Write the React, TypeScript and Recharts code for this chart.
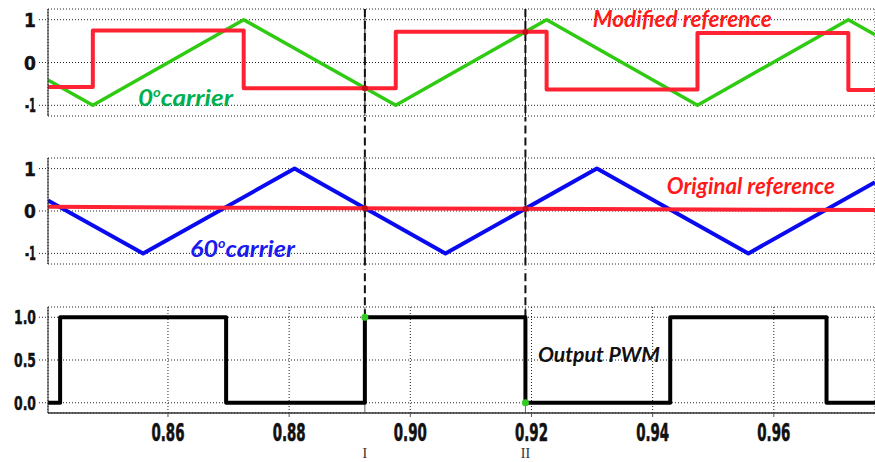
import React from "react";
import {
  LineChart,
  Line,
  XAxis,
  YAxis,
  CartesianGrid,
  ReferenceLine,
  ReferenceDot,
} from "recharts";

// ---------- data ----------
const xDomain: [number, number] = [0.8402, 0.9767];
const xTicks = [0.86, 0.88, 0.9, 0.92, 0.94, 0.96];
const xTickLabels = ["0.86", "0.88", "0.90", "0.92", "0.94", "0.96"];
const carrierYTicks = [-1, 0, 1];
const carrierYTickLabels = ["-1", "0", "1"];
const pwmYTicks = [0, 0.5, 1];
const pwmYTickLabels = ["0.0", "0.5", "1.0"];

const carrier0Times = [0.8402, 0.8476, 0.8725, 0.8976, 0.9225, 0.9474, 0.9723, 0.9767];
const carrier0Values = [-0.41, -1, 1, -1, 1, -1, 1, 0.65];

const modifiedTimes = [
  0.8402, 0.8476, 0.8476, 0.8725, 0.8725, 0.8976, 0.8976, 0.9225, 0.9225, 0.9474, 0.9474,
  0.9723, 0.9723, 0.9767,
];
const modifiedValues = [
  -0.57, -0.57, 0.75, 0.75, -0.6, -0.6, 0.72, 0.72, -0.63, -0.63, 0.69, 0.69, -0.64, -0.64,
];

const carrier60Times = [0.8402, 0.8559, 0.8809, 0.9058, 0.9308, 0.9558, 0.9767];
const carrier60Values = [0.25, -1, 1, -1, 1, -1, 0.68];

const originalTimes = [0.8402, 0.87, 0.9, 0.93, 0.96, 0.9767];
const originalValues = [0.1, 0.077, 0.06, 0.045, 0.03, 0.022];

const pwmTimes = [
  0.8402, 0.8422, 0.8422, 0.8696, 0.8696, 0.8925, 0.8925, 0.919, 0.919, 0.9429, 0.9429,
  0.9687, 0.9687, 0.9767,
];
const pwmValues = [0, 0, 1, 1, 0, 0, 1, 1, 0, 0, 1, 1, 0, 0];

const markerTimes = [0.8925, 0.919];
const markerLabels = ["I", "II"];
const modifiedAtMarkers = [-0.6, 0.712];
const originalAtMarkers = [0.066, 0.05];
const pwmAtMarkers = [1, 0];

// ---------- helpers ----------
const zip = (ts: number[], vs: number[]) => ts.map((t, i) => ({ t, v: vs[i] }));

const carrier0Data = zip(carrier0Times, carrier0Values);
const modifiedData = zip(modifiedTimes, modifiedValues);
const carrier60Data = zip(carrier60Times, carrier60Values);
const originalData = zip(originalTimes, originalValues);
const pwmData = zip(pwmTimes, pwmValues);

const NARROW = "'Liberation Sans Narrow', 'DejaVu Sans Condensed', 'Roboto', sans-serif";
const ANNOT = "Lato, 'Open Sans', 'Noto Sans', sans-serif";

const XTick = (props: any) => {
  const { x, y, payload } = props;
  const i = xTicks.findIndex((t) => Math.abs(t - payload.value) < 1e-9);
  const label = i >= 0 ? xTickLabels[i] : String(payload.value);
  return (
    <text
      x={x}
      y={y + 22}
      textAnchor="middle"
      fontFamily={NARROW}
      fontWeight={700}
      fontSize={25}
      fill="#111"
      stroke="#111"
      strokeWidth={0.6}
      textLength={33}
      lengthAdjust="spacingAndGlyphs"
    >
      {label}
    </text>
  );
};

const makeYTick = (ticks: number[], labels: string[]) => (props: any) => {
  const { x, y, payload } = props;
  const i = ticks.findIndex((t) => Math.abs(t - payload.value) < 1e-9);
  const label = i >= 0 ? labels[i] : String(payload.value);
  const len = label.length === 3 ? 22 : label.length === 2 ? 11 : undefined;
  return (
    <text
      x={x}
      y={y}
      dy={7}
      textAnchor="end"
      fontFamily={NARROW}
      fontWeight={700}
      fontSize={19}
      fill="#111"
      stroke="#111"
      strokeWidth={0.4}
      textLength={len}
      lengthAdjust={len ? "spacingAndGlyphs" : undefined}
    >
      {label}
    </text>
  );
};

const markLabel = (text: string) => (props: any) => {
  const vb = props.viewBox || {};
  const x = (vb.x || 0) + (vb.width || 0) / 2;
  const y = (vb.y || 0) + (vb.height || 0) + 45;
  return (
    <text
      x={x}
      y={y}
      textAnchor="middle"
      fontFamily="'Liberation Serif', 'DejaVu Serif', serif"
      fontSize={14}
      fill="#333"
    >
      {text}
    </text>
  );
};

const annot =
  (text: string, color: string, width: number, size = 22, sup?: string, rest?: string) =>
  (props: any) => {
    const vb = props.viewBox || {};
    return (
      <text
        x={vb.x}
        y={vb.y}
        fontFamily={ANNOT}
        fontWeight={700}
        fontStyle="italic"
        fontSize={size}
        fill={color}
        textLength={width}
        lengthAdjust="spacingAndGlyphs"
      >
        {text}
        {sup ? (
          <tspan fontSize={13} dy={-9}>
            {sup}
          </tspan>
        ) : null}
        {rest ? <tspan dy={9}>{rest}</tspan> : null}
      </text>
    );
  };

const gridProps = {
  stroke: "#222",
  strokeDasharray: "1 2",
  strokeWidth: 1,
};

const dashStyle = { stroke: "#111", strokeWidth: 2, strokeDasharray: "8 4" };

const commonX = (
  <XAxis
    dataKey="t"
    type="number"
    domain={xDomain}
    allowDataOverflow
    ticks={xTicks}
    height={0}
    tick={false}
    tickLine={false}
    axisLine={{ stroke: "#444", strokeWidth: 1.5 }}
  />
);

const topBorder = (
  <XAxis
    xAxisId="top"
    orientation="top"
    type="number"
    domain={xDomain}
    allowDataOverflow
    height={0}
    tick={false}
    tickLine={false}
    axisLine={{ stroke: "#8a8a8a", strokeWidth: 2 }}
  />
);

const carrierY = (
  <YAxis
    type="number"
    domain={[-1.25, 1.25]}
    allowDataOverflow
    ticks={carrierYTicks}
    width={48}
    tickSize={9}
    tickMargin={3}
    tickLine={{ stroke: "#222", strokeDasharray: "1 2" }}
    axisLine={{ stroke: "#222" }}
    tick={makeYTick(carrierYTicks, carrierYTickLabels)}
    interval={0}
  />
);

export default function App() {
  return (
    <div
      style={{
        position: "absolute",
        left: 0,
        top: 0,
        width: 875,
        height: 462,
        background: "#fff",
        overflow: "hidden",
      }}
    >
      {/* Top panel */}
      <div style={{ position: "absolute", left: 0, top: 0 }}>
        <LineChart width={875} height={120} margin={{ top: 9, right: 0, bottom: 4, left: 0 }}>
          <CartesianGrid {...gridProps} />
          {commonX}
          {topBorder}
          {carrierY}
          <Line
            data={carrier0Data}
            dataKey="v"
            stroke="#2fcb12"
            strokeWidth={3.5}
            dot={false}
            isAnimationActive={false}
            strokeLinejoin="round"
          />
          <Line
            data={modifiedData}
            dataKey="v"
            stroke="#fe2233"
            strokeWidth={4}
            dot={false}
            isAnimationActive={false}
            strokeLinejoin="round"
          />
          {markerTimes.map((t, i) => (
            <ReferenceLine key={"s" + i} x={t} stroke="#111" strokeWidth={1} />
          ))}
          {markerTimes.map((t, i) => (
            <ReferenceLine
              key={"d" + i}
              segment={[
                { x: t, y: 1.25 },
                { x: t, y: -2.5 },
              ]}
              ifOverflow="visible"
              {...dashStyle}
            />
          ))}
          {markerTimes.map((t, i) => (
            <ReferenceDot
              key={"p" + i}
              x={t}
              y={modifiedAtMarkers[i]}
              r={3}
              fill="#c0101a"
              stroke="none"
            />
          ))}
          <ReferenceDot
            x={0.9301}
            y={0.83}
            r={0}
            stroke="none"
            label={annot("Modified reference", "#ff1a1a", 179)}
          />
          <ReferenceDot
            x={0.85505}
            y={-1.016}
            r={0}
            stroke="none"
            label={annot("0", "#00b050", 95, 23, "o", "carrier")}
          />
        </LineChart>
      </div>

      {/* Middle panel */}
      <div style={{ position: "absolute", left: 0, top: 120 }}>
        <LineChart width={875} height={150} margin={{ top: 38, right: 0, bottom: 6, left: 0 }}>
          <CartesianGrid {...gridProps} />
          {commonX}
          {topBorder}
          {carrierY}
          <Line
            data={carrier60Data}
            dataKey="v"
            stroke="#0a0af0"
            strokeWidth={4}
            dot={false}
            isAnimationActive={false}
            strokeLinejoin="round"
          />
          <Line
            data={originalData}
            dataKey="v"
            stroke="#fe2233"
            strokeWidth={4}
            dot={false}
            isAnimationActive={false}
            strokeLinejoin="round"
          />
          {markerTimes.map((t, i) => (
            <ReferenceLine key={"s" + i} x={t} stroke="#111" strokeWidth={1} />
          ))}
          {markerTimes.map((t, i) => (
            <ReferenceLine
              key={"d" + i}
              segment={[
                { x: t, y: 4 },
                { x: t, y: -4 },
              ]}
              ifOverflow="visible"
              {...dashStyle}
            />
          ))}
          {markerTimes.map((t, i) => (
            <ReferenceDot
              key={"p" + i}
              x={t}
              y={originalAtMarkers[i]}
              r={3}
              fill="#c0101a"
              stroke="none"
            />
          ))}
          <ReferenceDot
            x={0.86363}
            y={-1.085}
            r={0}
            stroke="none"
            label={annot("60", "#1a1aee", 105, 23, "o", "carrier")}
          />
          <ReferenceDot
            x={0.94234}
            y={0.4}
            r={0}
            stroke="none"
            label={annot("Original reference", "#ff1a1a", 168)}
          />
        </LineChart>
      </div>

      {/* Bottom panel */}
      <div style={{ position: "absolute", left: 0, top: 270 }}>
        <LineChart width={875} height={192} margin={{ top: 37, right: 0, bottom: 17, left: 0 }}>
          <CartesianGrid {...gridProps} />
          <XAxis
            dataKey="t"
            type="number"
            domain={xDomain}
            allowDataOverflow
            ticks={xTicks}
            interval={0}
            height={32}
            tickSize={4}
            tickMargin={2}
            tickLine={{ stroke: "#555" }}
            axisLine={{ stroke: "#333", strokeWidth: 1.5 }}
            tick={XTick}
          />
          {topBorder}
          <YAxis
            type="number"
            domain={[-0.12, 1.12]}
            allowDataOverflow
            ticks={pwmYTicks}
            width={48}
            tickSize={9}
            tickMargin={3}
            tickLine={{ stroke: "#222", strokeDasharray: "1 2" }}
            axisLine={{ stroke: "#222" }}
            tick={makeYTick(pwmYTicks, pwmYTickLabels)}
            interval={0}
          />
          {markerTimes.map((t, i) => (
            <ReferenceLine
              key={"m" + i}
              x={t}
              stroke="#666"
              strokeWidth={1}
              label={markLabel(markerLabels[i])}
            />
          ))}
          {markerTimes.map((t, i) => (
            <ReferenceLine
              key={"d" + i}
              segment={[
                { x: t, y: 1 },
                { x: t, y: 2.5 },
              ]}
              ifOverflow="visible"
              {...dashStyle}
            />
          ))}
          <Line
            data={pwmData}
            dataKey="v"
            stroke="#000"
            strokeWidth={4}
            dot={false}
            isAnimationActive={false}
            strokeLinejoin="round"
          />
          {markerTimes.map((t, i) => (
            <ReferenceDot
              key={"p" + i}
              x={t}
              y={pwmAtMarkers[i]}
              r={3.5}
              fill="#33cc22"
              stroke="none"
            />
          ))}
          <ReferenceDot
            x={0.92106}
            y={0.476}
            r={0}
            stroke="none"
            label={annot("Output PWM", "#111", 122, 21)}
          />
        </LineChart>
      </div>
    </div>
  );
}
